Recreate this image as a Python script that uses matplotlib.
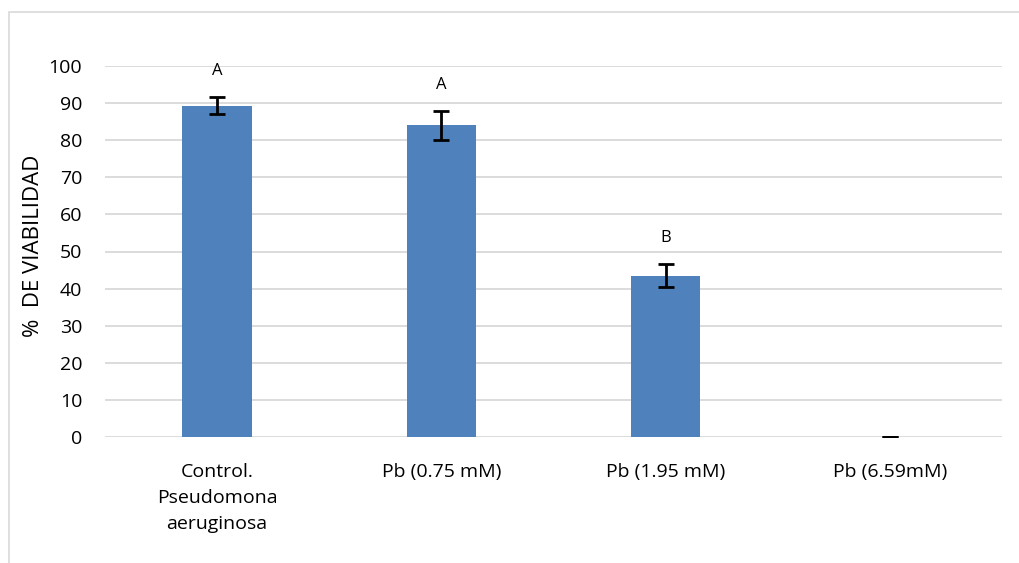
import matplotlib
matplotlib.use("Agg")
import matplotlib.pyplot as plt
from matplotlib.patches import Rectangle

categories = ["Control.\nPseudomona\naeruginosa", "Pb (0.75 mM)", "Pb (1.95 mM)", "Pb (6.59mM)"]
viability = [89.3, 84.0, 43.5, 0.0]
errors = [2.3, 4.0, 3.2, 0.0]
letters = ["A", "A", "B", ""]
yticks = [0, 10, 20, 30, 40, 50, 60, 70, 80, 90, 100]

plt.rcParams["font.family"] = ["Open Sans", "DejaVu Sans"]

W, H = 1020, 563
fig = plt.figure(figsize=(W / 100, H / 100), dpi=100)

# outer chart frame
fig.patches.append(Rectangle((9 / W, -0.01), 1.2, 1 - 12 / H + 0.01, transform=fig.transFigure,
                             fill=False, edgecolor="#d9d9d9", linewidth=1.2))

ax = fig.add_axes([105 / W, 1 - 437 / H, (1002 - 105) / W, (437 - 66) / H])
x = range(len(categories))
ax.bar(x, viability, width=0.31, color="#4f81bd", zorder=3)
ax.errorbar(x, viability, yerr=errors, fmt="none", ecolor="black", elinewidth=2,
            capsize=6, capthick=2, zorder=4)
for xi, v, e, lab in zip(x, viability, errors, letters):
    if lab:
        ax.annotate(lab, (xi, v + e), xytext=(0, 18.5), textcoords="offset points",
                    ha="center", va="center", fontsize=12, annotation_clip=False)

ax.set_xlim(-0.5, len(categories) - 0.5)
ax.set_ylim(0, 100)
ax.set_yticks(yticks)
ax.set_xticks(list(x))
ax.set_xticklabels(categories, fontsize=14, linespacing=1.6)
ax.tick_params(axis="y", length=0, pad=16.5, labelsize=14)
ax.tick_params(axis="x", length=0, pad=18.5)
ax.grid(axis="y", color="#d9d9d9", linewidth=1.3, zorder=0)
for s in ax.spines.values():
    s.set_visible(False)
ax.set_ylabel("%  DE VIABILIDAD", fontsize=16)
ax.yaxis.set_label_coords(-0.068, 0.515)

fig.savefig("out.png", dpi=100)
